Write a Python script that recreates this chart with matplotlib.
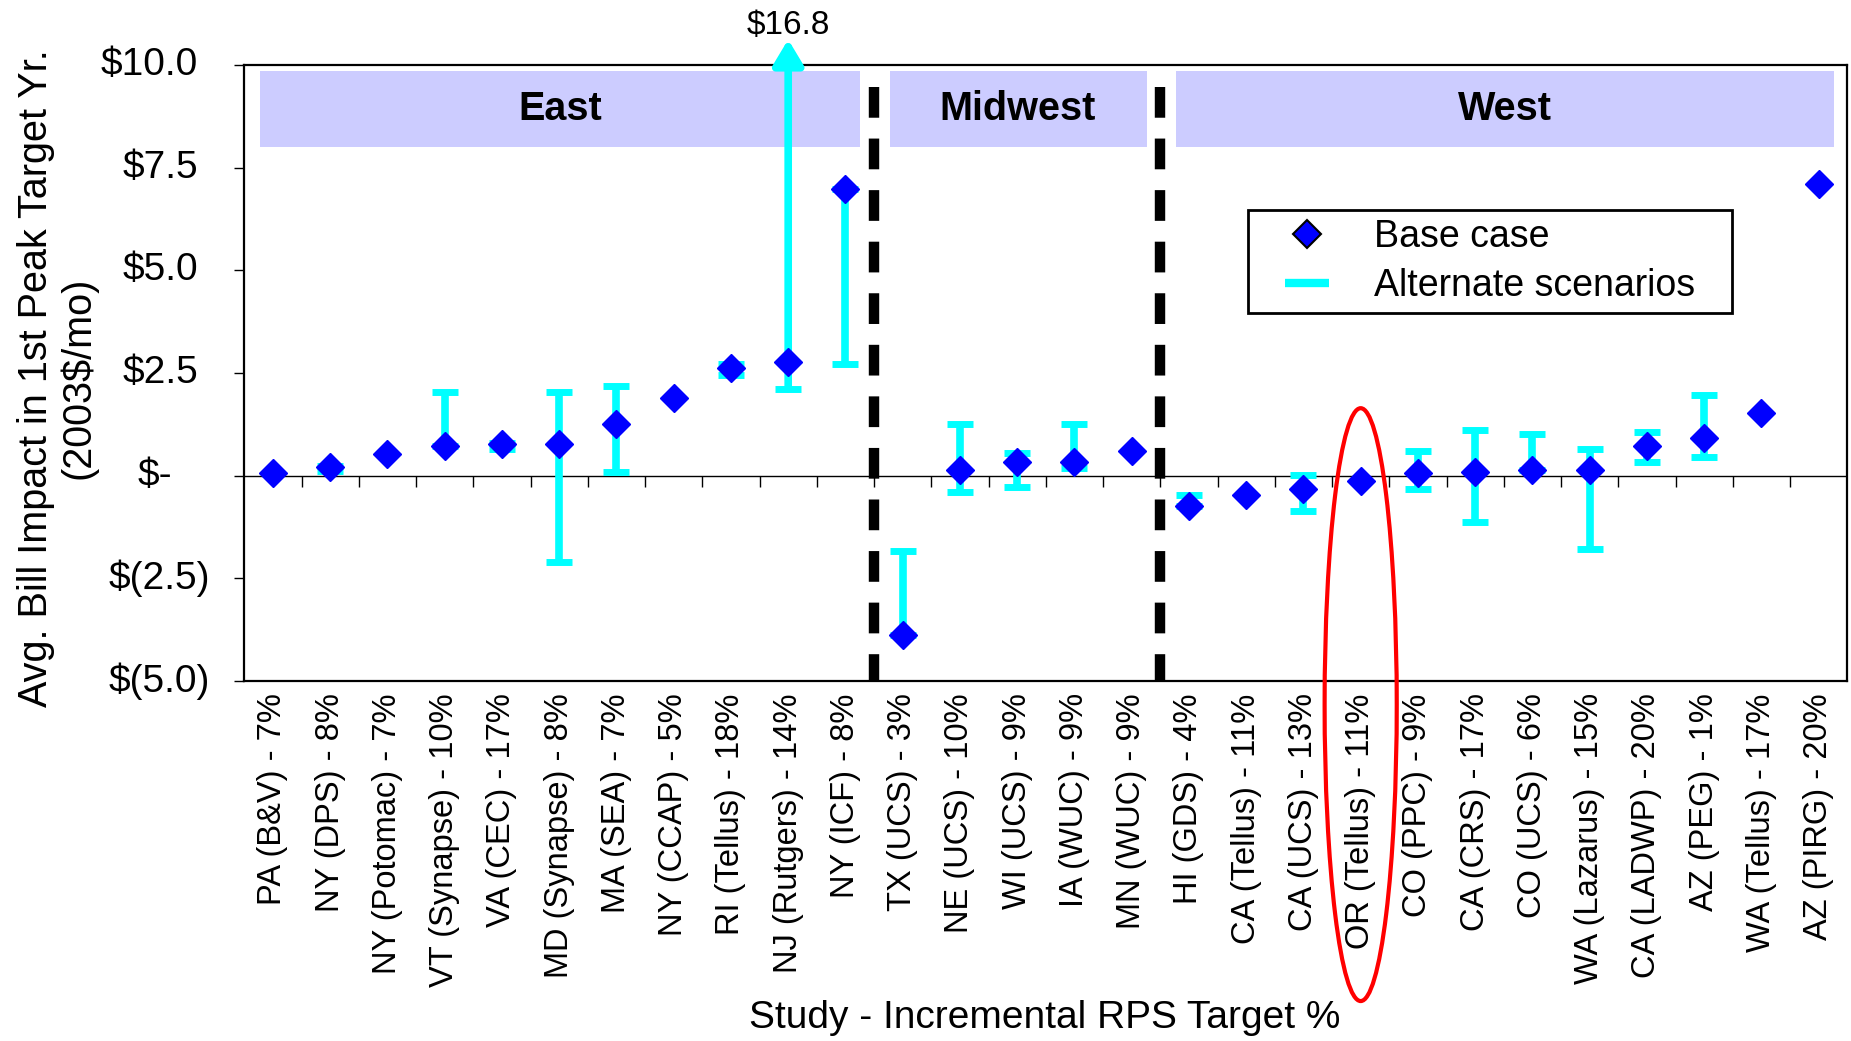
import numpy as np
import matplotlib
matplotlib.use("Agg")
import matplotlib.pyplot as plt
from matplotlib.patches import Rectangle, Ellipse
from matplotlib.lines import Line2D
from matplotlib.transforms import blended_transform_factory, ScaledTranslation

plt.rcParams['font.family'] = ['Liberation Sans', 'DejaVu Sans']

studies = ["PA (B&V) - 7%", "NY (DPS) - 8%", "NY (Potomac) - 7%", "VT (Synapse) - 10%",
           "VA (CEC) - 17%", "MD (Synapse) - 8%", "MA (SEA) - 7%", "NY (CCAP) - 5%",
           "RI (Tellus) - 18%", "NJ (Rutgers) - 14%", "NY (ICF) - 8%", "TX (UCS) - 3%",
           "NE (UCS) - 10%", "WI (UCS) - 9%", "IA (WUC) - 9%", "MN (WUC) - 9%",
           "HI (GDS) - 4%", "CA (Tellus) - 11%", "CA (UCS) - 13%", "OR (Tellus) - 11%",
           "CO (PPC) - 9%", "CA (CRS) - 17%", "CO (UCS) - 6%", "WA (Lazarus) - 15%",
           "CA (LADWP) - 20%", "AZ (PEG) - 1%", "WA (Tellus) - 17%", "AZ (PIRG) - 20%"]

base_case = [0.05, 0.2, 0.52, 0.73, 0.78, 0.78, 1.25, 1.9, 2.62, 2.76, 6.97, -3.88,
             0.13, 0.33, 0.33, 0.6, -0.73, -0.47, -0.33, -0.13, 0.05, 0.08, 0.14, 0.13,
             0.73, 0.92, 1.52, 7.1]

nan = np.nan
alt_low = [nan, 0.1, nan, 0.73, 0.65, -2.11, 0.08, nan, 2.44, 2.11, 2.71, -3.88,
           -0.39, -0.27, 0.18, nan, -0.73, nan, -0.87, nan, -0.33, -1.12, 0.14, -1.79,
           0.33, 0.46, nan, nan]
alt_high = [nan, 0.22, nan, 2.04, 0.8, 2.04, 2.17, nan, 2.71, 16.8, 6.97, -1.84,
            1.25, 0.54, 1.25, nan, -0.47, nan, 0.02, nan, 0.6, 1.12, 1.0, 0.65,
            1.05, 1.97, nan, nan]

regions = ["East", "Midwest", "West"]
region_first = [0, 11, 16]
region_last = [10, 15, 27]
highlight = "OR (Tellus) - 11%"

yticks = [-5.0, -2.5, 0.0, 2.5, 5.0, 7.5, 10.0]
ymin, ymax = -5.0, 10.0

x = np.arange(len(studies))
base = np.array(base_case)
lo = np.array(alt_low)
hi = np.array(alt_high)

fig = plt.figure(figsize=(18.51, 10.41), dpi=100)
ax = fig.add_axes([0.132, 0.346, 0.866, 0.5916])
ax.set_xlim(-0.5, len(studies) - 0.5)
ax.set_ylim(ymin, ymax)

# region header boxes
for name, a, b in zip(regions, region_first, region_last):
    left, right = a - 0.23, b + 0.26
    ax.add_patch(Rectangle((left, 8.0), right - left, 1.85,
                           facecolor='#ccccff', edgecolor='none', zorder=1))
    ax.text((left + right) / 2, 8.93, name, ha='center', va='center',
            fontsize=28.5, fontweight='bold', zorder=2)

# dashed separators between regions
for b in region_last[:-1]:
    ax.plot([b + 0.5, b + 0.5], [9.46, ymin], color='black', lw=7.5,
            dashes=(2.95, 2.0), zorder=3, solid_capstyle='butt')

# zero line with category tick marks
ax.axhline(0, color='black', lw=1, zorder=2)
ax.plot(np.arange(len(studies) - 1) + 0.5, np.zeros(len(studies) - 1), ls='none',
        marker=3, ms=8, mew=1, color='black', zorder=2)

# alternate scenarios range
inside = ~np.isnan(lo) & (hi <= ymax)
ax.errorbar(x[inside], base[inside],
            yerr=[base[inside] - lo[inside], hi[inside] - base[inside]],
            fmt='none', ecolor='cyan', elinewidth=5.5, capsize=9.5, capthick=5, zorder=3)

over = ~np.isnan(lo) & (hi > ymax)
for i in np.where(over)[0]:
    ax.annotate('', xy=(x[i], ymax + 0.62), xytext=(x[i], lo[i]),
                arrowprops=dict(arrowstyle='-|>,head_length=0.5,head_width=0.3',
                                color='cyan', lw=5.5, mutation_scale=30,
                                shrinkA=0, shrinkB=0),
                annotation_clip=False, zorder=3)
    ax.plot([x[i]], [lo[i]], marker='_', ms=19, mew=5, color='cyan', zorder=3)
    ax.text(x[i], ymax + 0.95, f"${hi[i]:.1f}", ha='center', va='center',
            fontsize=24, clip_on=False)

# base case
ax.plot(x, base, ls='none', marker='D', ms=14.5, color='blue', mec='blue', zorder=4)

# highlighted study
hx = studies.index(highlight)
ax.add_patch(Ellipse((hx, -5.58), 1.26, 14.44, facecolor='none', edgecolor='red',
                     lw=3, clip_on=False, zorder=6))

# axes styling
for s in ax.spines.values():
    s.set_linewidth(1.6)
ax.set_xticks(x)
ax.set_xticklabels(studies, rotation=90, fontsize=23.5)
ax.tick_params(axis='x', length=0, pad=9)
ax.set_yticks(yticks)
ax.set_yticklabels([])
ax.tick_params(axis='y', direction='out', length=7, width=1)

trans = blended_transform_factory(ax.transAxes, ax.transData)
for v in yticks:
    if v > 0:
        txt, off = f"${v:.1f}", 46
    elif v < 0:
        txt, off = f"$({-v:.1f})", 34
    else:
        txt, off = "$-", 72
    ax.text(0, v, txt, transform=trans + ScaledTranslation(-off / 100, 0, fig.dpi_scale_trans),
            ha='right', va='center', fontsize=28)

fig.text(0.031, 0.637, "Avg. Bill Impact in 1st Peak Target Yr.\n(2003$/mo)",
         rotation=90, ha='center', va='center', multialignment='center',
         fontsize=28.5, linespacing=1.15)
fig.text(0.5645, 0.022, "Study - Incremental RPS Target %", ha='center', va='center',
         fontsize=28)

handles = [Line2D([], [], ls='none', marker='D', ms=14, color='blue', mec='black', mew=1.5),
           Line2D([], [], ls='none', marker='_', ms=32, mew=6, color='cyan')]
leg = ax.legend(handles, ["Base case", "Alternate scenarios"], loc='upper left',
                bbox_to_anchor=(0.626, 0.0, 0.302, 0.7646), mode='expand',
                borderaxespad=0, fontsize=27,
                frameon=True, fancybox=False, edgecolor='black', framealpha=1,
                borderpad=0.25, handlelength=2.67, handletextpad=0.45, labelspacing=0.33)
leg.get_frame().set_linewidth(2)
leg.set_zorder(5)

fig.savefig("out.png", dpi=100)
